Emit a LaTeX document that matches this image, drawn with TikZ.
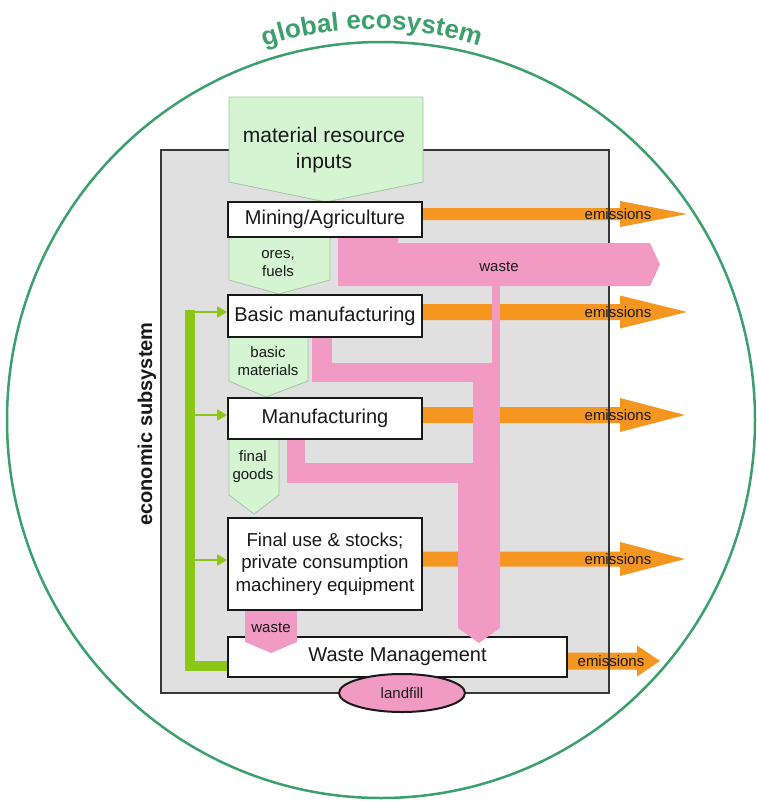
\documentclass[tikz,border=0pt]{standalone}
\usepackage{fontspec}
\setmainfont{Liberation Sans}
\usetikzlibrary{arrows.meta,decorations.text,shapes.geometric,calc}

\definecolor{ecogreen}{RGB}{60,160,108}
\definecolor{panelgray}{RGB}{224,224,224}
\definecolor{panelline}{RGB}{55,55,55}
\definecolor{resgreen}{RGB}{212,244,210}
\definecolor{resline}{RGB}{165,195,165}
\definecolor{wastepink}{RGB}{241,155,196}
\definecolor{emisorange}{RGB}{244,150,32}
\definecolor{feedlime}{RGB}{140,198,22}
\definecolor{ink}{RGB}{25,25,25}

\pgfdeclarelayer{back}
\pgfdeclarelayer{mid}
\pgfdeclarelayer{front}
\pgfsetlayers{back,mid,main,front}

\tikzset{
  stage/.style={draw=ink, line width=2pt, fill=white, inner sep=0pt, text=ink,
    font=\fontsize{20}{24}\selectfont, align=center},
  flowlabel/.style={text=ink, font=\fontsize{15}{18}\selectfont, align=center, inner sep=0pt},
  resource/.style={fill=resgreen, draw=resline, line width=0.8pt},
  wasteband/.style={fill=wastepink},
  emisband/.style={fill=emisorange},
  feedbar/.style={draw=feedlime, line width=10pt},
  feedarrow/.style={draw=feedlime, line width=2.8pt, -{Triangle[length=10pt,width=11pt]}},
}

% broad emission arrow: start, tip, shaft half-width, head half-width, head length
\newcommand\emisflow[5]{%
  \fill[emisband] ($(#1)+(0,-#3)$) -- ($(#2)+(-#5,-#3)$) -- ($(#2)+(-#5,-#4)$) -- (#2)
    -- ($(#2)+(-#5,#4)$) -- ($(#2)+(-#5,#3)$) -- ($(#1)+(0,#3)$) -- cycle;}

\begin{document}
\begin{tikzpicture}[x=1pt,y=-1pt]
\useasboundingbox (0,0) rectangle (756,801);

% ---------------- global ecosystem and the economic panel
\begin{pgfonlayer}{back}
  \draw[ecogreen, line width=2.5pt] (381,420) ellipse [x radius=374, y radius=378];
  \path[decorate, decoration={text along path, text align=center, text color=ecogreen,
      text={|\fontsize{26}{26}\selectfont\bfseries|global ecosystem}}]
    (227.5,61) arc[start angle=-115, end angle=-65, radius=342];
  \fill[panelgray] (161,150) rectangle (609,693);
\end{pgfonlayer}

\node[rotate=90, font=\fontsize{20}{24}\selectfont\bfseries, text=ink] (econ) at (147,424) {economic subsystem};

% ---------------- material flow (green)
\filldraw[resource] (229,97) -- (423,97) -- (423,182) -- (326,202) -- (229,182) -- cycle;
\node[text=ink, font=\fontsize{21}{26}\selectfont, align=center, inner sep=0pt] (inputs) at (324,150) {material resource\\inputs};

\filldraw[resource] (229,237) -- (330,237) -- (330,280) -- (279,294) -- (229,280) -- cycle;
\node[flowlabel] (ores) at (278,264) {ores,\\fuels};

\filldraw[resource] (229,337) -- (308,337) -- (308,381) -- (266,397) -- (229,381) -- cycle;
\node[flowlabel] (basicmat) at (268,361.5) {basic\\materials};

\filldraw[resource] (229,439) -- (279,439) -- (279,495) -- (254,514) -- (229,495) -- cycle;
\node[flowlabel] (goods) at (253,466.5) {final\\goods};

% ---------------- feedback from waste management
\coordinate (fbtop) at (190,312);
\coordinate (fbmid) at (190,415);
\coordinate (fbfin) at (190,560);
\coordinate (fbbot) at (190,666);
\draw[feedbar] (190,310) -- (fbbot) -- (fbbot -| 229,0);

% ---------------- process stages
\node[stage, minimum width=194pt, minimum height=35pt] (mining) at (325,219.5) {Mining/Agriculture};
\node[stage, minimum width=194pt, minimum height=42pt] (basic) at (325,316) {Basic manufacturing};
\node[stage, minimum width=194pt, minimum height=41pt] (manuf) at (325,418.5) {Manufacturing};
\node[stage, minimum width=194pt, minimum height=92pt, font=\fontsize{18.7}{22.5}\selectfont] (final) at (325,564)
  {Final use \& stocks;\\private consumption\\machinery equipment};
\node[stage, minimum width=339pt, minimum height=40pt] (wm) at (397.5,657) {Waste Management};

\draw[feedarrow] (fbtop) -- (fbtop -| basic.west);
\draw[feedarrow] (fbmid) -- (fbmid -| manuf.west);
\draw[feedarrow] (fbfin) -- (fbfin -| final.west);

% ---------------- emissions (orange)
\coordinate (e1) at (687,214);
\coordinate (e2) at (687,312);
\coordinate (e3) at (685,415);
\coordinate (e4) at (685,559);
\coordinate (e5) at (660,661);
\coordinate (s1) at (mining.east |- e1);
\coordinate (s2) at (basic.east |- e2);
\coordinate (s3) at (manuf.east |- e3);
\coordinate (s4) at (final.east |- e4);
\coordinate (s5) at (wm.east |- e5);
\begin{pgfonlayer}{mid}
  \emisflow{s1}{e1}{6}{13}{67}
  \emisflow{s2}{e2}{8}{16.5}{67}
  \emisflow{s3}{e3}{8}{17}{65}
  \emisflow{s4}{e4}{7.5}{17}{65}
  \emisflow{s5}{e5}{8.5}{15.5}{23}
  \draw[panelline, line width=2pt] (161,150) rectangle (609,693);
\end{pgfonlayer}

% ---------------- waste flows (pink)
\begin{pgfonlayer}{front}
  \fill[wasteband] (338,238) -- (398,238) -- (398,243) -- (650,243) -- (660,264.5) -- (650,286) -- (338,286) -- cycle;
  \fill[wasteband] (492,286) rectangle (500,470);
  \fill[wasteband] (312,338) rectangle (332,382);
  \fill[wasteband] (312,363) rectangle (492,382);
  \fill[wasteband] (473,363) rectangle (500,470);
  \fill[wasteband] (287,440) rectangle (305,483);
  \fill[wasteband] (287,463) rectangle (458,483);
  \fill[wasteband] (458,463) -- (500,463) -- (500,628) -- (479,643) -- (458,628) -- cycle;

  \fill[wasteband] (245,611) -- (297,611) -- (297,642) -- (271,653) -- (245,642) -- cycle;
  \node[flowlabel] (smallwaste) at (271,628) {waste};
  \node[flowlabel] (wastelabel) at (499,267) {waste};

  \node[ellipse, draw=ink, line width=2pt, fill=wastepink, minimum width=126pt, minimum height=38pt,
        flowlabel] (landfill) at (402,693) {landfill};

  \node[flowlabel] (em1) at (618,214) {emissions};
  \node[flowlabel] (em2) at (618,312) {emissions};
  \node[flowlabel] (em3) at (618,415) {emissions};
  \node[flowlabel] (em4) at (618,559) {emissions};
  \node[flowlabel] (em5) at (611,661) {emissions};
\end{pgfonlayer}
\end{tikzpicture}
\end{document}
